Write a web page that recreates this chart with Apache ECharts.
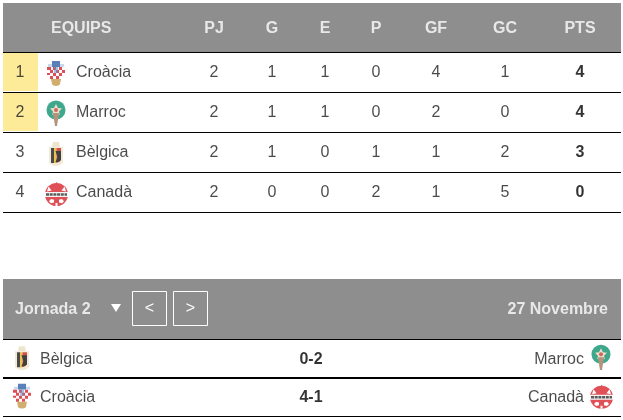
<!DOCTYPE html>
<html>
<head>
<meta charset="utf-8">
<title>Grup F</title>
<style>
  html, body { margin: 0; padding: 0; background: #fff; }
  #chart { width: 623px; height: 420px; }
</style>
<script src="https://cdn.jsdelivr.net/npm/echarts@6/dist/echarts.min.js"></script>
</head>
<body>
<div id="chart"></div>
<script>
// dades de la classificacio
var columns = ['PJ', 'G', 'E', 'P', 'GF', 'GC', 'PTS'];
var positions = [1, 2, 3, 4];
var teams = ['Croàcia', 'Marroc', 'Bèlgica', 'Canadà'];
var played = [2, 2, 2, 2];
var won = [1, 1, 1, 0];
var drawn = [1, 1, 0, 0];
var lost = [0, 0, 1, 2];
var goalsFor = [4, 2, 1, 1];
var goalsAgainst = [1, 0, 2, 5];
var points = [4, 4, 3, 0];
var qualified = [1, 1, 0, 0];

// dades de la jornada
var roundLabel = 'Jornada 2';
var roundDate = '27 Novembre';
var homeTeams = ['Bèlgica', 'Croàcia'];
var scores = ['0-2', '4-1'];
var awayTeams = ['Marroc', 'Canadà'];

// posicio de les columnes en px, l'eix x va de 3 a 621
var columnX = [214, 272, 325, 376, 436, 505, 580];
var GREY = '#8e8e8e', TEXT = '#1c1c1c', FONT = '"Liberation Sans", Arial, sans-serif';

// escuts dibuixats a ma
function crest(svg) {
  return 'image://data:image/svg+xml;charset=utf-8,' + encodeURIComponent(
    '<svg xmlns="http://www.w3.org/2000/svg" width="84" height="84" viewBox="0 0 28 28">' + svg + '</svg>');
}
var crests = {
  'Croàcia': crest(
    '<path d="M10 3h8v6h-8z" fill="#2f62a8"/><path d="M6 6h4v3H6zM18 6h4v3h-4z" fill="#bcd0e6"/>' +
    '<path d="M5 9h18v6c0 3-3 5-4 6H9c-1-1-4-3-4-6z" fill="#fff"/>' +
    '<path d="M5 9h4v3H5zM11 9h3v3h-3zM17 9h3v3h-3zM8 12h3v3H8zM14 12h3v3h-3zM20 12h3v3h-3zM5 15h3v2H5zM11 15h3v3h-3zM17 15h3v3h-3zM8 18h3v3H8zM14 18h3v3h-3z" fill="#d8222a"/>' +
    '<path d="M12 9h4v6h-4z" fill="#3f74b8" opacity=".55"/>' +
    '<path d="M9 21h10l-1 5c-1 2.500-7 2.500-8 0z" fill="#c79a4a"/>'),
  'Marroc': crest(
    '<circle cx="14" cy="12" r="9.500" fill="#0f9270"/>' +
    '<path d="M14 6l2 4 4 .5-3 3 .8 3.500-3.800-1.800-3.800 1.800.8-3.500-3-3 4-.5z" fill="#e8d8c4"/>' +
    '<path d="M11 15h6l-2 13h-2z" fill="#a5795c"/><circle cx="14" cy="12" r="2" fill="#c5432f"/>'),
  'Bèlgica': crest(
    '<path d="M11 4h6l1 5h-8z" fill="#eadfc2"/><path d="M7 9h14v15c-1 3-5 4-7 4s-6-1-7-4z" fill="#efe6cd"/>' +
    '<path d="M9 10h3v15H9z" fill="#1d1d1b"/><path d="M12 10h2.500v15H12z" fill="#e6b422"/>' +
    '<path d="M14.500 10H19v12c-1 1.500-3 2.500-4.500 3z" fill="#c8281e"/><path d="M13.500 13H19v9c-2 2-4 2.500-5.500 2l2-5z" fill="#111"/>'),
  'Canadà': crest(
    '<circle cx="14.500" cy="16.500" r="11.500" fill="#d8262e"/>' +
    '<path d="M14.500 4l2.500 3.500 2.500-1-.6 3 3-.8-1 5.300H8.600l-1-5.300 3 .8-.6-3 2.500 1z" fill="#d8262e"/>' +
    '<path d="M6.500 8.500l3 4-4.500 1zM22.500 8.500l-3 4 4.500 1z" fill="#fff"/>' +
    '<path d="M3 14h23v5H3z" fill="#f4f4f4"/>' +
    '<path d="M4 16.500h21" stroke="#333" stroke-width="2.600" stroke-dasharray="3 .7"/>' +
    '<path d="M9 21l3 .8v2.600l-3 .8-2-2zM20 21l-3 .8v2.600l3 .8 2-2zM13.500 25h2v3h-2z" fill="#fff"/>')
};

// etiquetes amb un scatter invisible
function textSeries(gridIndex, data, align, color, weight) {
  return {
    type: 'scatter', xAxisIndex: gridIndex, yAxisIndex: gridIndex, symbolSize: 0, silent: true, data: data,
    label: {
      show: true, position: 'inside', align: align, verticalAlign: 'middle', offset: [0, 1],
      color: color, fontFamily: FONT, fontSize: 16, fontWeight: weight, textBorderWidth: 0,
      formatter: function (p) { return p.value[2]; }
    }
  };
}
function crestSeries(gridIndex, data, offsetY) {
  return data.map(function (d) {
    return {
      type: 'scatter', xAxisIndex: gridIndex, yAxisIndex: gridIndex, silent: true,
      symbol: crests[d[2]], symbolSize: 28, symbolOffset: [0, offsetY], data: [[d[0], d[1]]]
    };
  });
}
function xAxis(gridIndex) {
  return { type: 'value', gridIndex: gridIndex, min: 3, max: 621, show: false };
}

var rowValues = [played, won, drawn, lost, goalsFor, goalsAgainst];
var rowIndex = teams.map(function (t, i) { return i; });
var cells = [];
rowValues.forEach(function (values, c) {
  values.forEach(function (v, r) { cells.push([columnX[c], r, v]); });
});

var series = [
  // franja groga dels classificats
  {
    type: 'bar', xAxisIndex: 1, yAxisIndex: 1, barWidth: 38, silent: true,
    itemStyle: { color: '#fdeb9a' },
    data: qualified.map(function (q) { return q ? 38 : null; })
  },
  textSeries(0, [[51, 0, 'EQUIPS']], 'left', '#fff', 'bold'),
  textSeries(0, columns.map(function (c, i) { return [columnX[i], 0, c]; }), 'center', '#fff', 'bold'),
  textSeries(1, rowIndex.map(function (r) { return [20, r, positions[r]]; }), 'center', TEXT, 'normal'),
  textSeries(1, rowIndex.map(function (r) { return [76, r, teams[r]]; }), 'left', TEXT, 'normal'),
  textSeries(1, cells, 'center', TEXT, 'normal'),
  textSeries(1, rowIndex.map(function (r) { return [columnX[6], r, points[r]]; }), 'center', '#000', 'bold'),
  textSeries(2, [[15, 0, roundLabel]], 'left', '#fff', 'bold'),
  textSeries(2, [[608, 0, roundDate]], 'right', '#fff', 'bold'),
  {
    type: 'scatter', xAxisIndex: 3, yAxisIndex: 3, symbolSize: 0, silent: true, data: [[311, 1]],
    markLine: {
      silent: true, symbol: 'none', label: { show: false }, animation: false,
      lineStyle: { color: '#000', width: 2, type: 'solid' },
      data: [{ yAxis: 1 }]
    }
  },
  textSeries(3, homeTeams.map(function (t, i) { return [40, i + 0.5, t]; }), 'left', TEXT, 'normal'),
  textSeries(3, scores.map(function (s, i) { return [311, i + 0.5, s]; }), 'center', '#000', 'bold'),
  textSeries(3, awayTeams.map(function (t, i) { return [584, i + 0.5, t]; }), 'right', TEXT, 'normal')
];
series = series
  .concat(crestSeries(1, rowIndex.map(function (r) { return [56, r, teams[r]]; }), 0))
  .concat(crestSeries(3, homeTeams.map(function (t, i) { return [22, i + 0.5, t]; }), -2))
  .concat(crestSeries(3, awayTeams.map(function (t, i) { return [601, i + 0.5, t]; }), -2));

var chart = echarts.init(document.getElementById('chart'), null, { renderer: 'canvas' });
chart.setOption({
  animation: false,
  backgroundColor: '#fff',
  grid: [
    { left: 3, width: 618, top: 3, height: 49, show: true, backgroundColor: GREY, borderWidth: 0 },
    { left: 3, width: 618, top: 52, height: 160 },
    { left: 3, width: 618, top: 279, height: 60, show: true, backgroundColor: GREY, borderWidth: 0 },
    { left: 3, width: 618, top: 339, height: 77 }
  ],
  xAxis: [xAxis(0), xAxis(1), xAxis(2), xAxis(3)],
  yAxis: [
    { type: 'category', gridIndex: 0, data: ['capcalera'], show: false },
    {
      type: 'category', gridIndex: 1, inverse: true, data: teams,
      axisLine: { show: false }, axisTick: { show: false }, axisLabel: { show: false },
      splitLine: { show: true, interval: 0, lineStyle: { color: '#000', width: 1 } }
    },
    { type: 'category', gridIndex: 2, data: ['jornada'], show: false },
    {
      type: 'value', gridIndex: 3, inverse: true, min: 0, max: 2, interval: 1,
      axisLine: { show: false }, axisTick: { show: false }, axisLabel: { show: false },
      splitLine: { show: true, lineStyle: { color: '#000', width: 1 } }
    }
  ],
  // selector de jornada, no son dades
  graphic: [
    { type: 'polygon', shape: { points: [[111, 304], [121, 304], [116, 312]] }, style: { fill: '#fff' }, silent: true },
    { type: 'rect', shape: { x: 132.5, y: 291.5, width: 34, height: 34 }, style: { fill: 'transparent', stroke: '#fff', lineWidth: 1 }, silent: true },
    { type: 'rect', shape: { x: 173.5, y: 291.5, width: 34, height: 34 }, style: { fill: 'transparent', stroke: '#fff', lineWidth: 1 }, silent: true },
    { type: 'text', x: 149.5, y: 309, silent: true, style: { text: '<', fill: '#fff', font: '16px ' + FONT, textAlign: 'center', textVerticalAlign: 'middle' } },
    { type: 'text', x: 190.5, y: 309, silent: true, style: { text: '>', fill: '#fff', font: '16px ' + FONT, textAlign: 'center', textVerticalAlign: 'middle' } }
  ],
  series: series
});
</script>
</body>
</html>
